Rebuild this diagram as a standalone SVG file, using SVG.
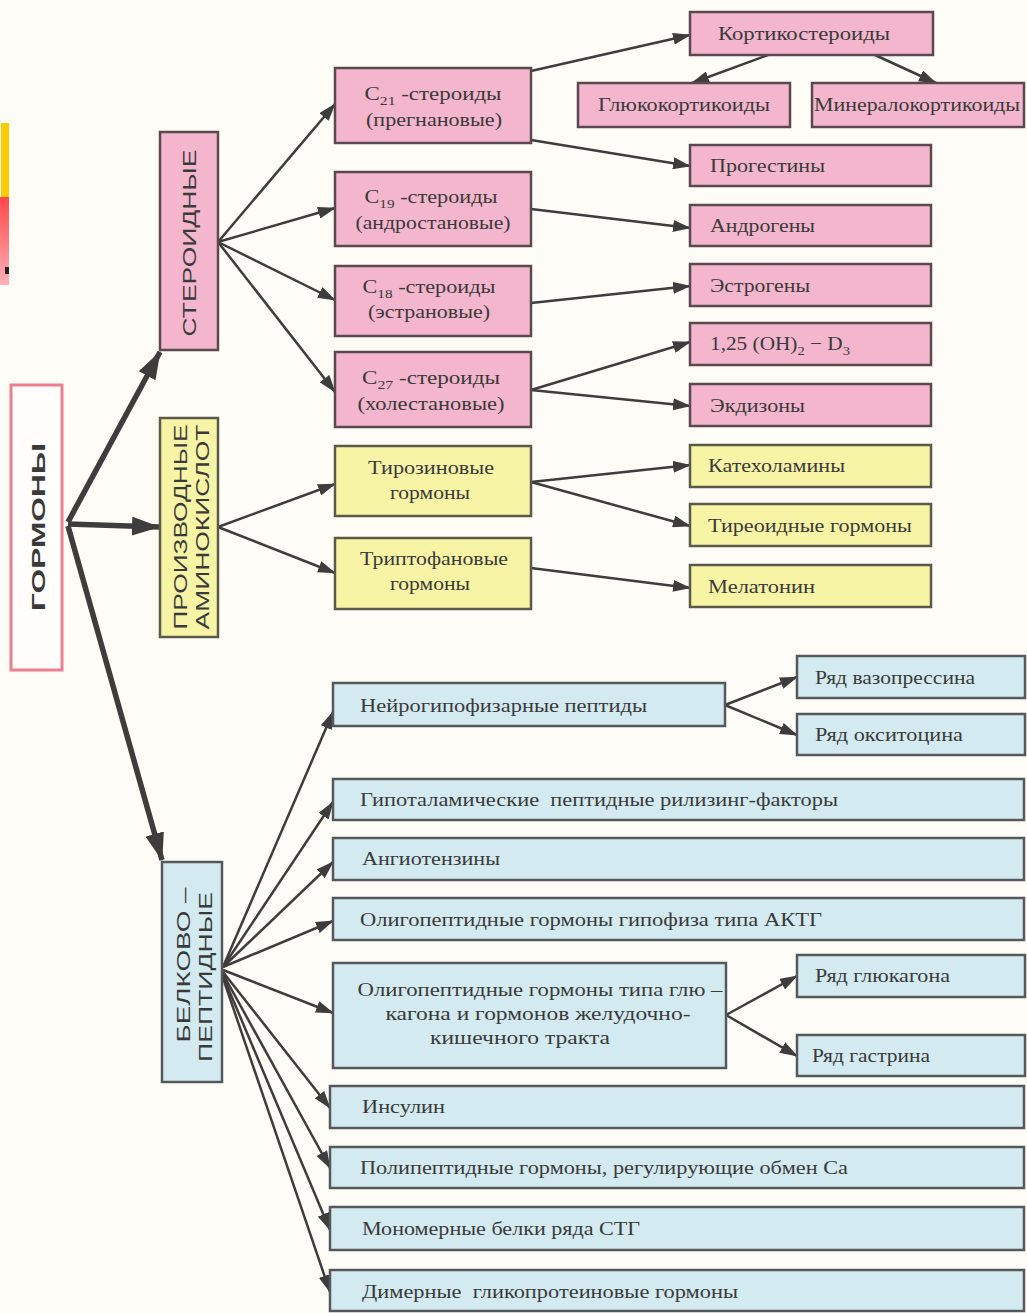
<svg xmlns="http://www.w3.org/2000/svg" width="1027" height="1313" viewBox="0 0 1027 1313">
<defs>
<style>
.bg{fill:#fdfcf7}
.pk{fill:#f4b6cc;stroke:#5a4a50;stroke-width:2.5}
.yl{fill:#f8f4a6;stroke:#5a5a48;stroke-width:2.5}
.bl{fill:#d4eaf1;stroke:#55595c;stroke-width:2.5}
.t{font-family:"Liberation Serif","DejaVu Serif",serif;font-size:18px;fill:#3a3a3a}
.b{font-size:19px}
.c{text-anchor:middle}
.v{font-family:"Liberation Sans","DejaVu Sans",sans-serif;font-size:18px;fill:#3a3a3a;text-anchor:middle}
.ln{stroke:#3d3d3d;stroke-width:2.5;fill:none;marker-end:url(#a)}
.th{stroke:#3d3d3d;stroke-width:5.5;fill:none;marker-end:url(#A)}
</style>
<marker id="a" markerUnits="userSpaceOnUse" markerWidth="18" markerHeight="12" refX="17" refY="6" orient="auto"><path d="M0,0 L18,6 L0,12 z" fill="#3d3d3d"/></marker>
<marker id="A" markerUnits="userSpaceOnUse" markerWidth="28" markerHeight="19" refX="27" refY="9.5" orient="auto"><path d="M0,0 L28,9.5 L0,19 z" fill="#3d3d3d"/></marker>
<linearGradient id="rg" x1="0" y1="0" x2="0" y2="1"><stop offset="0" stop-color="#ff4848"/><stop offset="1" stop-color="#ffb0b8"/></linearGradient>
</defs>
<rect class="bg" x="0" y="0" width="1027" height="1313"/>
<g id="deco">
<rect x="1" y="123" width="8" height="75" fill="#ffcc00"/>
<rect x="0" y="197" width="9" height="88" fill="url(#rg)"/>
<rect x="5" y="267" width="4" height="7" fill="#222"/>
</g>

<g id="connectors">
<line class="th" x1="68" y1="522" x2="160" y2="352"/>
<line class="th" x1="68" y1="524" x2="159" y2="527"/>
<line class="th" x1="68" y1="526" x2="162" y2="860"/>

<line class="ln" x1="218" y1="242" x2="335" y2="104"/>
<line class="ln" x1="218" y1="242" x2="335" y2="208"/>
<line class="ln" x1="218" y1="242" x2="335" y2="300"/>
<line class="ln" x1="218" y1="242" x2="335" y2="392"/>

<line class="ln" x1="531" y1="71" x2="690" y2="35"/>
<line class="ln" x1="531" y1="140" x2="690" y2="166"/>
<line class="ln" x1="768" y1="55" x2="692" y2="83"/>
<line class="ln" x1="875" y1="55" x2="936" y2="83"/>
<line class="ln" x1="531" y1="209" x2="690" y2="228"/>
<line class="ln" x1="531" y1="303" x2="690" y2="286"/>
<line class="ln" x1="531" y1="390" x2="690" y2="342"/>
<line class="ln" x1="531" y1="390" x2="690" y2="406"/>

<line class="ln" x1="218" y1="527" x2="335" y2="484"/>
<line class="ln" x1="218" y1="527" x2="335" y2="573"/>
<line class="ln" x1="531" y1="482" x2="690" y2="465"/>
<line class="ln" x1="531" y1="482" x2="690" y2="526"/>
<line class="ln" x1="531" y1="568" x2="690" y2="588"/>

<line class="ln" x1="223" y1="967" x2="333" y2="712"/>
<line class="ln" x1="223" y1="967" x2="333" y2="802"/>
<line class="ln" x1="223" y1="967" x2="333" y2="862"/>
<line class="ln" x1="223" y1="967" x2="333" y2="921"/>
<line class="ln" x1="223" y1="970" x2="333" y2="1013"/>
<line class="ln" x1="223" y1="972" x2="330" y2="1108"/>
<line class="ln" x1="223" y1="974" x2="330" y2="1168"/>
<line class="ln" x1="223" y1="976" x2="330" y2="1230"/>
<line class="ln" x1="223" y1="978" x2="330" y2="1292"/>

<line class="ln" x1="725" y1="705" x2="797" y2="677"/>
<line class="ln" x1="725" y1="705" x2="797" y2="735"/>
<line class="ln" x1="726" y1="1015" x2="797" y2="976"/>
<line class="ln" x1="726" y1="1015" x2="797" y2="1056"/>
</g>

<g id="n-gormony">
<rect x="11" y="385" width="51" height="285" fill="#fffefc" stroke="#e8808f" stroke-width="3"/>
<text class="v" transform="translate(45,527) rotate(-90)" font-weight="bold" font-size="22" textLength="168" lengthAdjust="spacingAndGlyphs">ГОРМОНЫ</text>
</g>

<g id="n-steroid">
<rect class="pk" x="160" y="132" width="58" height="218"/>
<text class="v" transform="translate(196,243) rotate(-90)" textLength="187" lengthAdjust="spacingAndGlyphs">СТЕРОИДНЫЕ</text>
</g>
<g id="n-amino">
<rect class="yl" x="160" y="418" width="58" height="219"/>
<text class="v" transform="translate(187,527) rotate(-90)" font-size="16" textLength="205" lengthAdjust="spacingAndGlyphs">ПРОИЗВОДНЫЕ</text>
<text class="v" transform="translate(209,527) rotate(-90)" font-size="16" textLength="205" lengthAdjust="spacingAndGlyphs">АМИНОКИСЛОТ</text>
</g>
<g id="n-belok">
<rect class="bl" x="162" y="862" width="60" height="220"/>
<text class="v" transform="translate(190,965) rotate(-90)" font-size="17" textLength="155" lengthAdjust="spacingAndGlyphs">БЕЛКОВО –</text>
<text class="v" transform="translate(212,977) rotate(-90)" font-size="17" textLength="170" lengthAdjust="spacingAndGlyphs">ПЕПТИДНЫЕ</text>
</g>

<g id="n-c21">
<rect class="pk" x="335" y="68" width="196" height="75"/>
<text class="t b c" x="433" y="100" textLength="137" lengthAdjust="spacingAndGlyphs">C<tspan font-size="13" dy="5">21</tspan><tspan dy="-5"> -стероиды</tspan></text>
<text class="t b c" x="434" y="126" textLength="136" lengthAdjust="spacingAndGlyphs">(прегнановые)</text>
</g>
<g id="n-c19">
<rect class="pk" x="335" y="172" width="196" height="74"/>
<text class="t b c" x="431" y="203" textLength="133" lengthAdjust="spacingAndGlyphs">C<tspan font-size="13" dy="5">19</tspan><tspan dy="-5"> -стероиды</tspan></text>
<text class="t b c" x="433" y="229" textLength="155" lengthAdjust="spacingAndGlyphs">(андростановые)</text>
</g>
<g id="n-c18">
<rect class="pk" x="335" y="266" width="196" height="70"/>
<text class="t b c" x="429" y="293" textLength="133" lengthAdjust="spacingAndGlyphs">C<tspan font-size="13" dy="5">18</tspan><tspan dy="-5"> -стероиды</tspan></text>
<text class="t b c" x="429" y="318" textLength="122" lengthAdjust="spacingAndGlyphs">(эстрановые)</text>
</g>
<g id="n-c27">
<rect class="pk" x="335" y="352" width="196" height="75"/>
<text class="t b c" x="431" y="384" textLength="138" lengthAdjust="spacingAndGlyphs">C<tspan font-size="13" dy="5">27</tspan><tspan dy="-5"> -стероиды</tspan></text>
<text class="t b c" x="431" y="410" textLength="147" lengthAdjust="spacingAndGlyphs">(холестановые)</text>
</g>

<g id="n-kortiko">
<rect class="pk" x="690" y="12" width="243" height="43"/>
<text class="t" x="718" y="40" textLength="172" lengthAdjust="spacingAndGlyphs">Кортикостероиды</text>
</g>
<g id="n-gluko">
<rect class="pk" x="578" y="83" width="212" height="44"/>
<text class="t" x="598" y="111" textLength="172" lengthAdjust="spacingAndGlyphs">Глюкокортикоиды</text>
</g>
<g id="n-mineral">
<rect class="pk" x="812" y="83" width="212" height="44"/>
<text class="t" x="814" y="111" textLength="206" lengthAdjust="spacingAndGlyphs">Минералокортикоиды</text>
</g>
<g id="n-progest">
<rect class="pk" x="690" y="145" width="241" height="41"/>
<text class="t" x="710" y="172" textLength="115" lengthAdjust="spacingAndGlyphs">Прогестины</text>
</g>
<g id="n-androg">
<rect class="pk" x="690" y="205" width="241" height="41"/>
<text class="t" x="710" y="232" textLength="105" lengthAdjust="spacingAndGlyphs">Андрогены</text>
</g>
<g id="n-estrog">
<rect class="pk" x="690" y="264" width="241" height="42"/>
<text class="t" x="710" y="292" textLength="100" lengthAdjust="spacingAndGlyphs">Эстрогены</text>
</g>
<g id="n-d3">
<rect class="pk" x="690" y="323" width="241" height="42"/>
<text class="t b" x="710" y="350" textLength="140" lengthAdjust="spacingAndGlyphs">1,25 (OH)<tspan font-size="13" dy="5">2</tspan><tspan dy="-5"> − D</tspan><tspan font-size="13" dy="5">3</tspan></text>
</g>
<g id="n-ekdiz">
<rect class="pk" x="690" y="384" width="241" height="42"/>
<text class="t" x="710" y="412" textLength="95" lengthAdjust="spacingAndGlyphs">Экдизоны</text>
</g>

<g id="n-tiroz">
<rect class="yl" x="335" y="446" width="196" height="70"/>
<text class="t b c" x="431" y="474" textLength="126" lengthAdjust="spacingAndGlyphs">Тирозиновые</text>
<text class="t b c" x="430" y="499" textLength="80" lengthAdjust="spacingAndGlyphs">гормоны</text>
</g>
<g id="n-tript">
<rect class="yl" x="335" y="538" width="196" height="71"/>
<text class="t b c" x="434" y="565" textLength="148" lengthAdjust="spacingAndGlyphs">Триптофановые</text>
<text class="t b c" x="430" y="590" textLength="80" lengthAdjust="spacingAndGlyphs">гормоны</text>
</g>
<g id="n-katehol">
<rect class="yl" x="690" y="445" width="241" height="42"/>
<text class="t" x="708" y="472" textLength="137" lengthAdjust="spacingAndGlyphs">Катехоламины</text>
</g>
<g id="n-tireo">
<rect class="yl" x="690" y="504" width="241" height="42"/>
<text class="t" x="708" y="532" textLength="204" lengthAdjust="spacingAndGlyphs">Тиреоидные гормоны</text>
</g>
<g id="n-melat">
<rect class="yl" x="690" y="565" width="241" height="42"/>
<text class="t" x="708" y="593" textLength="107" lengthAdjust="spacingAndGlyphs">Мелатонин</text>
</g>

<g id="n-neuro">
<rect class="bl" x="333" y="683" width="392" height="43"/>
<text class="t" x="360" y="712" textLength="287" lengthAdjust="spacingAndGlyphs">Нейрогипофизарные пептиды</text>
</g>
<g id="n-vazo">
<rect class="bl" x="797" y="656" width="228" height="42"/>
<text class="t" x="815" y="684" textLength="160" lengthAdjust="spacingAndGlyphs">Ряд вазопрессина</text>
</g>
<g id="n-oksi">
<rect class="bl" x="797" y="714" width="228" height="41"/>
<text class="t" x="815" y="741" textLength="148" lengthAdjust="spacingAndGlyphs">Ряд окситоцина</text>
</g>
<g id="n-gipot">
<rect class="bl" x="333" y="779" width="691" height="41"/>
<text class="t" x="360" y="806" textLength="478" lengthAdjust="spacingAndGlyphs" xml:space="preserve">Гипоталамические  пептидные рилизинг-факторы</text>
</g>
<g id="n-angio">
<rect class="bl" x="333" y="838" width="691" height="42"/>
<text class="t" x="362" y="865" textLength="138" lengthAdjust="spacingAndGlyphs">Ангиотензины</text>
</g>
<g id="n-aktg">
<rect class="bl" x="333" y="898" width="691" height="42"/>
<text class="t" x="360" y="926" textLength="462" lengthAdjust="spacingAndGlyphs">Олигопептидные гормоны гипофиза типа АКТГ</text>
</g>
<g id="n-glu">
<rect class="bl" x="333" y="963" width="393" height="105"/>
<text class="t c" x="540" y="996" textLength="365" lengthAdjust="spacingAndGlyphs">Олигопептидные гормоны типа глю –</text>
<text class="t c" x="538" y="1020" textLength="305" lengthAdjust="spacingAndGlyphs">кагона и гормонов желудочно-</text>
<text class="t c" x="520" y="1044" textLength="180" lengthAdjust="spacingAndGlyphs">кишечного тракта</text>
</g>
<g id="n-glukagon">
<rect class="bl" x="797" y="955" width="228" height="42"/>
<text class="t" x="815" y="982" textLength="135" lengthAdjust="spacingAndGlyphs">Ряд глюкагона</text>
</g>
<g id="n-gastrin">
<rect class="bl" x="797" y="1035" width="228" height="41"/>
<text class="t" x="812" y="1062" textLength="118" lengthAdjust="spacingAndGlyphs">Ряд гастрина</text>
</g>
<g id="n-insulin">
<rect class="bl" x="330" y="1086" width="694" height="42"/>
<text class="t" x="362" y="1113" textLength="83" lengthAdjust="spacingAndGlyphs">Инсулин</text>
</g>
<g id="n-polipep">
<rect class="bl" x="330" y="1147" width="694" height="41"/>
<text class="t" x="360" y="1174" textLength="488" lengthAdjust="spacingAndGlyphs">Полипептидные гормоны, регулирующие обмен Са</text>
</g>
<g id="n-monomer">
<rect class="bl" x="330" y="1207" width="694" height="43"/>
<text class="t" x="362" y="1235" textLength="278" lengthAdjust="spacingAndGlyphs">Мономерные белки ряда СТГ</text>
</g>
<g id="n-dimer">
<rect class="bl" x="330" y="1270" width="694" height="41"/>
<text class="t" x="362" y="1298" textLength="376" lengthAdjust="spacingAndGlyphs" xml:space="preserve">Димерные  гликопротеиновые гормоны</text>
</g>
</svg>
